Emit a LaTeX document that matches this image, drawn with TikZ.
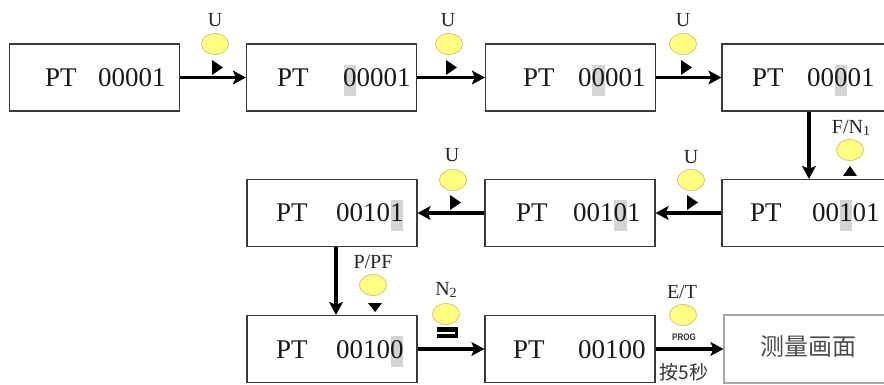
\documentclass[tikz,border=0pt]{standalone}
\usepackage{fontspec}
\setmainfont{Liberation Serif}
\newfontfamily\cjk{Noto Sans CJK SC}
\newfontfamily\sfb{Liberation Sans}
\usetikzlibrary{shapes.geometric,arrows.meta}
\definecolor{hlgray}{HTML}{D4D4D4}
\definecolor{keyfill}{HTML}{FFFF80}
\definecolor{keyline}{HTML}{D2C878}
\definecolor{boxline}{HTML}{3A3A3A}
\newcommand\hd[1]{\rlap{\hspace{0.02em}\textcolor{hlgray}{\rule[-0.33em]{0.46em}{1.15em}}}#1}
\newcommand\subn[1]{\raisebox{-0.12em}{\fontsize{14}{14}\selectfont #1}}
\begin{document}
\begin{tikzpicture}[x=1pt,y=-1pt,
 box/.style={draw=boxline, line width=1.3pt, fill=white, minimum width=170pt, minimum height=67pt, inner sep=0pt},
 big/.style={font=\fontsize{27}{27}\selectfont, text=black!90, inner sep=0pt, anchor=base west},
 key/.style={ellipse, draw=keyline, line width=0.8pt, fill=keyfill, minimum width=27pt, minimum height=21pt, inner sep=0pt},
 lbl/.style={font=\fontsize{20}{20}\selectfont, inner sep=0pt, text=black!85},
 arr/.style={line width=3.2pt, -{Stealth[length=13pt,width=14pt,inset=3pt,line width=0.5pt]}},
]
\useasboundingbox (0,0) rectangle (884,385);
\fill[white] (0,0) rectangle (884,385);
\clip (0,0) rectangle (884,385);

% row 1 boxes
\node[box] (b1) at (94.5,77.5) {};
\node[box] (b2) at (331.5,77.5) {};
\node[box] (b3) at (570.5,77.5) {};
\node[box] (b4) at (807,77.5) {};
% row 2 boxes
\node[box] (r2l) at (332,213) {};
\node[box] (r2m) at (570,213) {};
\node[box] (r2r) at (807,213) {};
% row 3 boxes
\node[box] (r3l) at (332,349) {};
\node[box] (r3m) at (570,349) {};
\node[box, draw=gray!70, line width=1.2pt, minimum height=68pt] (r3r) at (809,349) {};

% texts
\node[big] (t1a) at (45,87) {PT};  \node[big] (t1b) at (98,87) {00001};
\node[big] (t2a) at (277,87) {PT}; \node[big] (t2b) at (343,87) {\hd{0}0001};
\node[big] (t3a) at (523,87) {PT}; \node[big] (t3b) at (578,87) {0\hd{0}001};
\node[big] (t4a) at (752,87) {PT}; \node[big] (t4b) at (807,87) {00\hd{0}01};
\node[big] (u1a) at (276,222) {PT}; \node[big] (u1b) at (336,222) {0010\hd{1}};
\node[big] (u2a) at (516,222) {PT}; \node[big] (u2b) at (573,222) {001\hd{0}1};
\node[big] (u3a) at (750,222) {PT}; \node[big] (u3b) at (812,222) {00\hd{1}01};
\node[big] (w1a) at (276,358) {PT}; \node[big] (w1b) at (336,358) {0010\hd{0}};
\node[big] (w2a) at (513,358) {PT}; \node[big] (w2b) at (578,358) {00100};
\node[font=\cjk\fontsize{24}{24}\selectfont, text=black!70] (meas) at (808,347) {测量画面};

% connectors
\draw[arr] (b1) -- (b2);
\draw[arr] (b2) -- (b3);
\draw[arr] (b3) -- (b4);
\coordinate (v1) at (809,0);
\draw[arr] (b4.south -| v1) -- (r2r.north -| v1);
\draw[arr] (r2r) -- (r2m);
\draw[arr] (r2m) -- (r2l);
\coordinate (v2) at (336,0);
\draw[arr] (r2l.south -| v2) -- (r3l.north -| v2);
\draw[arr] (r3l) -- (r3m);
\draw[arr] (r3m) -- (r3r);

% keys and labels
\node[lbl] (l1) at (215,20) {U};   \node[key] (k1) at (215,44) {};
\node[lbl] (l2) at (448,20) {U};   \node[key] (k2) at (449,44) {};
\node[lbl] (l3) at (683,20) {U};   \node[key] (k3) at (683,44) {};
\node[lbl] (l4) at (851,128) {F/N\subn{1}}; \node[key] (k4) at (850,150) {};
\node[lbl] (l5) at (691,157) {U};  \node[key] (k5) at (691,180) {};
\node[lbl] (l6) at (452,155) {U};  \node[key] (k6) at (453,180) {};
\node[lbl] (l7) at (373,262) {P/PF}; \node[key] (k7) at (373,285) {};
\node[lbl] (l8) at (446,290) {N\subn{2}}; \node[key] (k8) at (446,314) {};
\node[lbl] (l9) at (682,292) {E/T}; \node[key] (k9) at (683,315) {};
\node[font=\sfb\bfseries\fontsize{9.5}{9.5}\selectfont, text=black!80, inner sep=0pt, xscale=0.85] (prog) at (684,337) {PROG};
\node[font=\cjk\fontsize{19}{19}\selectfont, text=black!80, inner sep=0pt] (hold) at (684,372) {按5秒};

% key glyph triangles
\fill (212,60) -- (223,67.5) -- (212,75) -- cycle;
\fill (446,60) -- (457,67.5) -- (446,75) -- cycle;
\fill (681,60) -- (692,67.5) -- (681,75) -- cycle;
\fill (687,195) -- (698,202.5) -- (687,210) -- cycle;
\fill (450,195) -- (461,202.5) -- (450,210) -- cycle;
\fill (843,176) -- (850,166) -- (857,176) -- cycle;
\fill (368,303) -- (382,303) -- (375,312) -- cycle;
% N2 glyph
\fill (437,327) rectangle (458,338);
\fill[white] (437,331.5) rectangle (455,333.5);
\end{tikzpicture}
\end{document}
